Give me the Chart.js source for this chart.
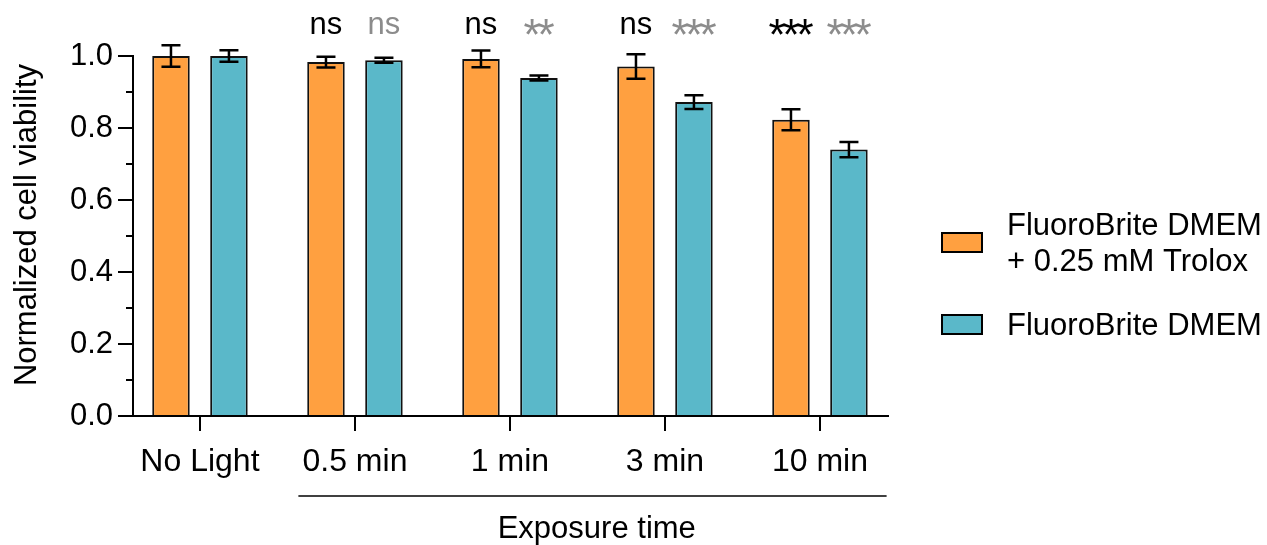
<!DOCTYPE html>
<html>
<head>
<meta charset="utf-8">
<script src="https://cdn.jsdelivr.net/npm/chart.js@4.4.1/dist/chart.umd.min.js"></script>
<style>
  html, body { margin: 0; padding: 0; background: #fff; }
  #wrap { width: 1267px; height: 545px; }
</style>
</head>
<body>
<div id="wrap"><canvas id="c" width="1267" height="545"></canvas></div>
<script>
// ---- data ----
const categories = ['No Light', '0.5 min', '1 min', '3 min', '10 min'];
const troloxMean = [1.00, 0.983, 0.992, 0.971, 0.823];
const troloxSem  = [0.030, 0.015, 0.023, 0.034, 0.029];
const dmemMean   = [1.00, 0.988, 0.939, 0.872, 0.740];
const dmemSem    = [0.016, 0.007, 0.007, 0.019, 0.021];
const troloxSig  = ['', 'ns', 'ns', 'ns', '***'];
const dmemSig    = ['', 'ns', '**', '***', '***'];
const seriesNames = [['FluoroBrite DMEM', '+ 0.25 mM Trolox'], ['FluoroBrite DMEM']];
const yMajorTicks = [0, 0.2, 0.4, 0.6, 0.8, 1.0];
const yMinorTicks = [0.1, 0.3, 0.5, 0.7, 0.9];
const yTitle = 'Normalized cell viability';
const xTitle = 'Exposure time';

const ORANGE = '#FFA040';
const TEAL = '#5AB8C9';
const SIG_COLORS = ['#000000', '#8C8C8C'];
const FONT = '"Liberation Sans", Arial, sans-serif';
const FS = 31;

const extras = {
  id: 'extras',
  afterDatasetsDraw(chart) {
    const ctx = chart.ctx;
    const xs = chart.scales.x, ys = chart.scales.y;
    const means = [troloxMean, dmemMean];
    const sems = [troloxSem, dmemSem];
    const sigs = [troloxSig, dmemSig];
    ctx.save();
    // error bars
    ctx.strokeStyle = '#000';
    ctx.lineWidth = 2.5;
    for (let d = 0; d < 2; d++) {
      const meta = chart.getDatasetMeta(d);
      meta.data.forEach((el, i) => {
        const top = ys.getPixelForValue(means[d][i] + sems[d][i]);
        const bot = ys.getPixelForValue(means[d][i] - sems[d][i]);
        const x = el.x, hw = 9.5;
        ctx.beginPath();
        ctx.moveTo(x, top); ctx.lineTo(x, bot);
        ctx.moveTo(x - hw, top); ctx.lineTo(x + hw, top);
        ctx.moveTo(x - hw, bot); ctx.lineTo(x + hw, bot);
        ctx.stroke();
      });
    }
    // significance labels
    ctx.textAlign = 'center';
    ctx.textBaseline = 'alphabetic';
    for (let d = 0; d < 2; d++) {
      const meta = chart.getDatasetMeta(d);
      meta.data.forEach((el, i) => {
        const s = sigs[d][i];
        if (!s) return;
        ctx.fillStyle = SIG_COLORS[d];
        if (s.indexOf('*') >= 0) {
          ctx.font = '44px ' + FONT;
          const m = ctx.measureText('*');
          const cy = 27;
          const base = cy + (m.actualBoundingBoxAscent - m.actualBoundingBoxDescent) / 2;
          const n = s.length, gap = 14;
          for (let k = 0; k < n; k++) {
            ctx.fillText('*', el.x + (k - (n - 1) / 2) * gap, base);
          }
        } else {
          ctx.font = FS + 'px ' + FONT;
          ctx.fillText(s, el.x, 34);
        }
      });
    }
    // minor ticks on y
    ctx.strokeStyle = '#000';
    ctx.lineWidth = 2;
    yMinorTicks.forEach(v => {
      const y = ys.getPixelForValue(v);
      ctx.beginPath();
      ctx.moveTo(xs.left - 7, y); ctx.lineTo(xs.left, y);
      ctx.stroke();
    });
    // y title
    ctx.fillStyle = '#000';
    ctx.font = FS + 'px ' + FONT;
    ctx.save();
    ctx.translate(27, 225);
    ctx.rotate(-Math.PI / 2);
    ctx.textAlign = 'center';
    ctx.textBaseline = 'middle';
    ctx.fillText(yTitle, 0, 0);
    ctx.restore();
    // bracket + x title
    const bx0 = xs.getPixelForValue(0.635), bx1 = xs.getPixelForValue(4.43);
    ctx.lineWidth = 1.5;
    ctx.beginPath();
    ctx.moveTo(bx0, 496); ctx.lineTo(bx1, 496);
    ctx.stroke();
    ctx.textAlign = 'center';
    ctx.textBaseline = 'alphabetic';
    ctx.fillText(xTitle, xs.getPixelForValue(2.56), 538);
    // legend
    const colors = [ORANGE, TEAL];
    const boxY = [233, 315];
    const textBase = [[235, 271], [335]];
    for (let d = 0; d < 2; d++) {
      ctx.fillStyle = colors[d];
      ctx.fillRect(942, boxY[d], 40, 19);
      ctx.strokeStyle = '#000';
      ctx.lineWidth = 2;
      ctx.strokeRect(942, boxY[d], 40, 19);
      ctx.fillStyle = '#000';
      ctx.textAlign = 'left';
      seriesNames[d].forEach((line, k) => ctx.fillText(line, 1007, textBase[d][k]));
    }
    ctx.restore();
  }
};

new Chart(document.getElementById('c'), {
  type: 'bar',
  data: {
    datasets: [
      { label: seriesNames[0].join(' '), data: troloxMean.map((v, i) => ({ x: i, y: v })),
        backgroundColor: ORANGE, borderColor: '#111', borderWidth: 2, borderSkipped: 'bottom' },
      { label: seriesNames[1].join(' '), data: dmemMean.map((v, i) => ({ x: i, y: v })),
        backgroundColor: TEAL, borderColor: '#111', borderWidth: 2, borderSkipped: 'bottom' }
    ]
  },
  options: {
    responsive: false,
    animation: false,
    devicePixelRatio: 1,
    categoryPercentage: 0.748,
    barPercentage: 0.647,
    layout: { padding: { left: 0, top: 56, right: 379, bottom: 0 } },
    plugins: { legend: { display: false }, tooltip: { enabled: false } },
    scales: {
      x: {
        type: 'linear',
        offset: false,
        min: -0.432, max: 4.439,
        afterBuildTicks: s => { s.ticks = categories.map((_, i) => ({ value: i })); },
        afterFit: s => { s.height = 129; },
        ticks: { callback: v => categories[v], color: '#000', font: { family: FONT, size: 32 }, padding: 12, maxRotation: 0, autoSkip: false },
        grid: { offset: false, drawOnChartArea: false, tickLength: 15, color: '#000', lineWidth: 2 },
        border: { color: '#000', width: 2 }
      },
      y: {
        min: 0, max: 1.0,
        afterBuildTicks: s => { s.ticks = yMajorTicks.map(v => ({ value: v })); },
        afterFit: s => { s.width = 133; },
        ticks: { callback: v => v.toFixed(1), color: '#000', font: { family: FONT, size: FS }, padding: 5 },
        grid: { drawOnChartArea: false, tickLength: 15, color: '#000', lineWidth: 2 },
        border: { color: '#000', width: 2 }
      }
    }
  },
  plugins: [extras]
});
</script>
</body>
</html>
